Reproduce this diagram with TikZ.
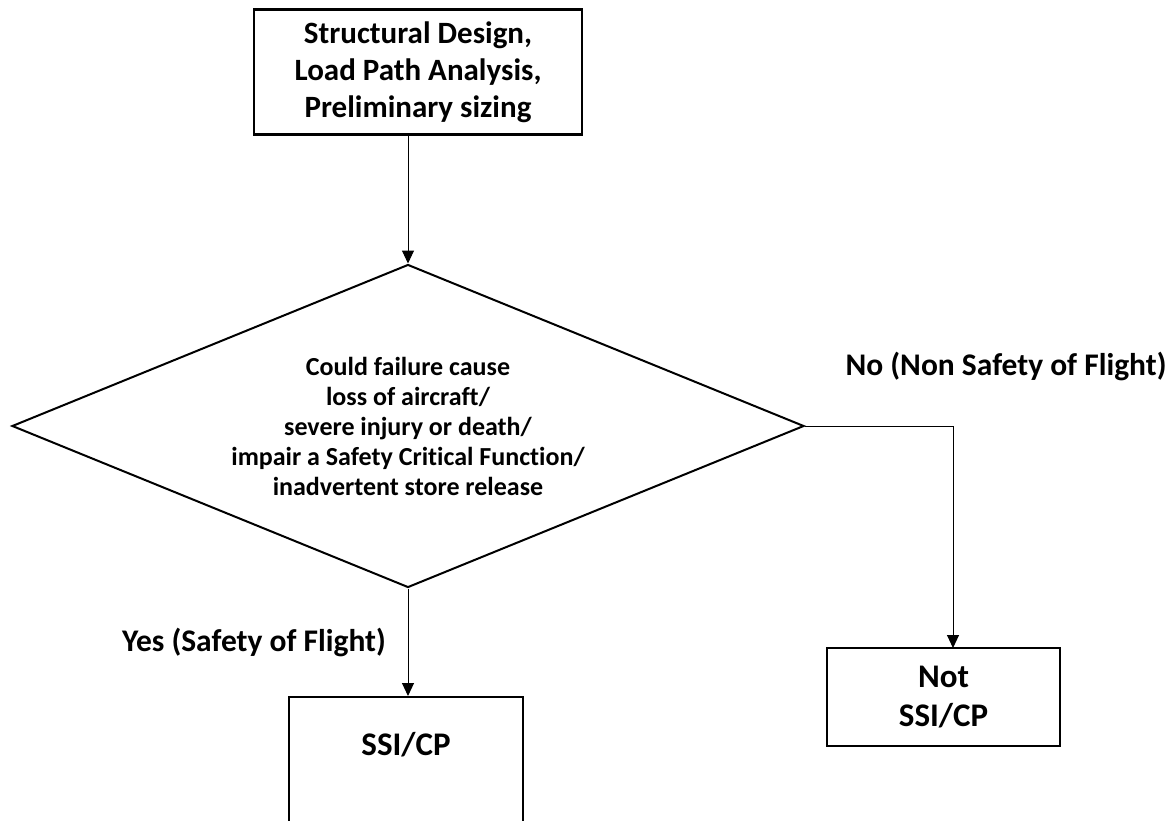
\documentclass[tikz,border=0pt]{standalone}
\usepackage{fontspec}
\setmainfont{Carlito}[Ligatures=NoCommon]
\usetikzlibrary{shapes.geometric,arrows.meta}

\tikzset{
  box/.style={draw, line width=2.3pt, rectangle, inner sep=0pt, align=center},
  decision/.style={draw, line width=2pt, diamond, aspect=2.45, inner sep=0pt, align=center},
  link/.style={line width=1pt, -{Triangle[length=13pt,width=12pt]}},
  branch/.style={font=\fontsize{31.5}{36}\selectfont\bfseries},
}

\begin{document}
\begin{tikzpicture}[x=1pt,y=-1pt]
  \useasboundingbox (0,0) rectangle (1172,821);
  \clip (0,0) rectangle (1172,821);

  % start box
  \node[box, minimum width=328pt, minimum height=125pt,
        font=\fontsize{31}{37}\selectfont\bfseries] (design) at (418,72)
    {Structural Design,\\Load Path Analysis,\\Preliminary sizing};

  % decision
  \node[decision, minimum width=792pt, minimum height=323pt,
        font=\fontsize{26}{30}\selectfont\bfseries] (q) at (408,426)
    {Could failure cause\\loss of aircraft/\\severe injury or death/\\impair a Safety Critical Function/\\inadvertent store release};

  % outcomes
  \node[box, minimum width=234pt, minimum height=200pt, anchor=north,
        label={[anchor=north, yshift=-33pt, font=\fontsize{33}{38}\selectfont\bfseries]north:SSI/CP}] (ssi) at (406,696) {};
  \node[box, minimum width=233pt, minimum height=98pt,
        font=\fontsize{33}{39}\selectfont\bfseries] (notssi) at (943.5,697)
    {Not\\SSI/CP};
  \coordinate (notin) at (953,648);

  % connectors
  \draw[link] (design.south -| q.north) -- (q.north);
  \draw[link] (q.south) -- (ssi.north -| q.south);
  \draw[link] (q.east) -| (notin);

  % branch labels
  \node[branch] (nolbl) at (1006,366) {No (Non Safety of Flight)};
  \node[branch] (yeslbl) at (254,642) {Yes (Safety of Flight)};
\end{tikzpicture}
\end{document}
